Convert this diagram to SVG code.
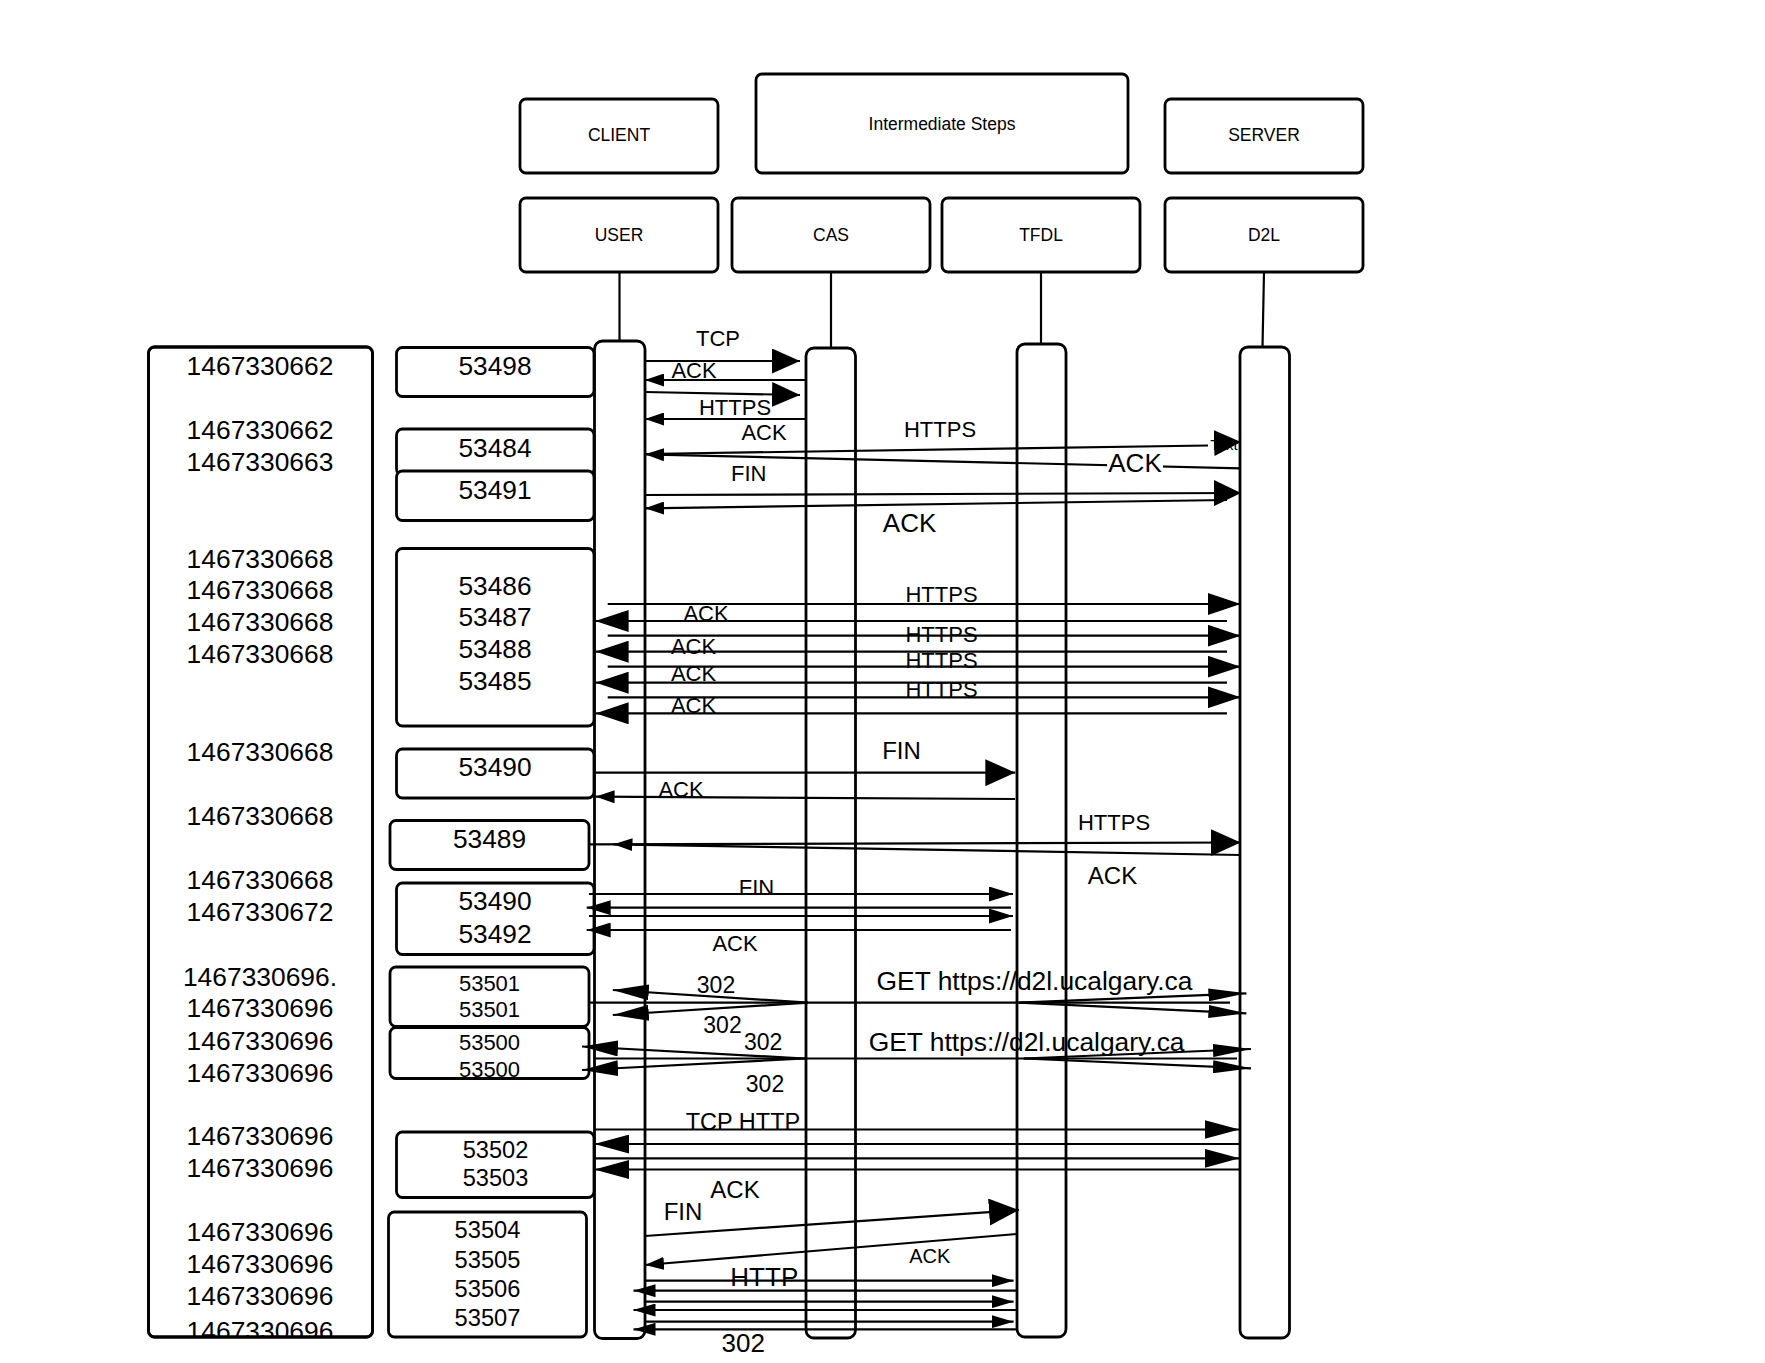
<svg xmlns="http://www.w3.org/2000/svg" width="1765" height="1363" viewBox="0 0 1765 1363">
  <style>
    text { font-family: "Liberation Sans", Arial, sans-serif; fill: #000; text-anchor: middle; }
    .box { fill: #fff; stroke: #000; stroke-width: 2.8; }
    .bar { fill: #fff; stroke: #000; stroke-width: 2.8; }
    .life { stroke: #000; stroke-width: 2.2; fill: none; }
    .msg { stroke: #000; stroke-width: 2.2; fill: none; }
    .hdr { font-size: 17.5px; }
    .ts { font-size: 26.4px; }
    .port { font-size: 26.3px; }
    .lbl { font-size: 22px; }
  </style>
  <defs>
    <marker id="mBig" viewBox="0 0 28 25" refX="28" refY="12.5" markerWidth="28" markerHeight="25" markerUnits="userSpaceOnUse" orient="auto"><path d="M0,0 L28,12.5 L0,25 Z"/></marker>
    <marker id="mSm" viewBox="0 0 19 13" refX="19" refY="6.5" markerWidth="19" markerHeight="13" markerUnits="userSpaceOnUse" orient="auto"><path d="M0,0 L19,6.5 L0,13 Z"/></marker>
    <marker id="mD2L" viewBox="0 0 27 26" refX="27" refY="13" markerWidth="27" markerHeight="26" markerUnits="userSpaceOnUse" orient="auto"><path d="M0,0 L27,13 L0,26 Z"/></marker>
    <marker id="mBlk" viewBox="0 0 33 22" refX="33" refY="11" markerWidth="33" markerHeight="22" markerUnits="userSpaceOnUse" orient="auto"><path d="M0,0 L33,11 L0,22 Z"/></marker>
    <marker id="mFin" viewBox="0 0 30 27" refX="30" refY="13.5" markerWidth="30" markerHeight="27" markerUnits="userSpaceOnUse" orient="auto"><path d="M0,0 L30,13.5 L0,27 Z"/></marker>
    <marker id="mFg" viewBox="0 0 24 15" refX="24" refY="7.5" markerWidth="24" markerHeight="15" markerUnits="userSpaceOnUse" orient="auto"><path d="M0,0 L24,7.5 L0,15 Z"/></marker>
    <marker id="m302" viewBox="0 0 36 16" refX="36" refY="8" markerWidth="36" markerHeight="16" markerUnits="userSpaceOnUse" orient="auto"><path d="M0,0 L36,8 L0,16 Z"/></marker>
    <marker id="mGet" viewBox="0 0 38 13" refX="38" refY="6.5" markerWidth="38" markerHeight="13" markerUnits="userSpaceOnUse" orient="auto"><path d="M0,0 L38,6.5 L0,13 Z"/></marker>
    <marker id="mTcp" viewBox="0 0 35 19" refX="35" refY="9.5" markerWidth="35" markerHeight="19" markerUnits="userSpaceOnUse" orient="auto"><path d="M0,0 L35,9.5 L0,19 Z"/></marker>
    <marker id="mHttp" viewBox="0 0 22 13" refX="22" refY="6.5" markerWidth="22" markerHeight="13" markerUnits="userSpaceOnUse" orient="auto"><path d="M0,0 L22,6.5 L0,13 Z"/></marker>
    <clipPath id="tsClip"><rect x="148" y="346" width="225" height="990"/></clipPath>
  </defs>

  <rect x="0" y="0" width="1765" height="1363" fill="#fff"/>

  <!-- group headers -->
  <g id="client"><rect class="box" x="520" y="99" width="198" height="74" rx="6"/><text class="hdr" x="619" y="141.3">CLIENT</text></g>
  <g id="intermediate"><rect class="box" x="756" y="74" width="372" height="99" rx="6"/><text class="hdr" x="942" y="129.6">Intermediate Steps</text></g>
  <g id="server"><rect class="box" x="1165" y="99" width="198" height="74" rx="6"/><text class="hdr" x="1264" y="141.3">SERVER</text></g>

  <!-- participants with lifelines and activation bars -->
  <g id="user">
    <rect class="box" x="520" y="198" width="198" height="74" rx="6"/><text class="hdr" x="619" y="240.6">USER</text>
    <line class="life" x1="619.5" y1="272" x2="619.5" y2="341"/>
    <rect class="bar" x="594.5" y="341" width="50.5" height="997.5" rx="8"/>
  </g>
  <g id="cas">
    <rect class="box" x="732" y="198" width="198" height="74" rx="6"/><text class="hdr" x="831" y="240.6">CAS</text>
    <line class="life" x1="831" y1="272" x2="831" y2="348"/>
    <rect class="bar" x="806" y="348" width="49.5" height="990" rx="8"/>
  </g>
  <g id="tfdl">
    <rect class="box" x="942" y="198" width="198" height="74" rx="6"/><text class="hdr" x="1041" y="240.6">TFDL</text>
    <line class="life" x1="1041" y1="272" x2="1041" y2="344"/>
    <rect class="bar" x="1017" y="344" width="49" height="993" rx="8"/>
  </g>
  <g id="d2l">
    <rect class="box" x="1165" y="198" width="198" height="74" rx="6"/><text class="hdr" x="1264" y="240.6">D2L</text>
    <line class="life" x1="1264" y1="272" x2="1262.5" y2="347"/>
    <rect class="bar" x="1240" y="347" width="49.5" height="991" rx="8"/>
  </g>

  <!-- timestamps column -->
  <g id="timestamps">
    <rect class="box" x="148.5" y="347" width="224" height="990" rx="6"/>
    <g class="ts" clip-path="url(#tsClip)">
      <text x="260" y="375">1467330662</text>
      <text x="260" y="439">1467330662</text>
      <text x="260" y="470.7">1467330663</text>
      <text x="260" y="567.7">1467330668</text>
      <text x="260" y="599.3">1467330668</text>
      <text x="260" y="631">1467330668</text>
      <text x="260" y="663.3">1467330668</text>
      <text x="260" y="761">1467330668</text>
      <text x="260" y="825.3">1467330668</text>
      <text x="260" y="888.9">1467330668</text>
      <text x="260" y="920.8">1467330672</text>
      <text x="260" y="985.6">1467330696.</text>
      <text x="260" y="1017">1467330696</text>
      <text x="260" y="1050">1467330696</text>
      <text x="260" y="1081.9">1467330696</text>
      <text x="260" y="1145.4">1467330696</text>
      <text x="260" y="1177">1467330696</text>
      <text x="260" y="1241.3">1467330696</text>
      <text x="260" y="1273.3">1467330696</text>
      <text x="260" y="1305.2">1467330696</text>
      <text x="260" y="1340">1467330696</text>
    </g>
    <rect x="148.5" y="347" width="224" height="990" rx="6" fill="none" stroke="#000" stroke-width="2.8"/>
  </g>

  <!-- port numbers -->
  <g id="port-53498"><rect class="box" x="396.5" y="347.5" width="197.5" height="49" rx="6"/><text class="port" x="495" y="374.5">53498</text></g>
  <g id="port-53484"><rect class="box" x="396.5" y="429" width="197.5" height="46" rx="6"/><text class="port" x="495" y="456.7">53484</text></g>
  <g id="port-53491"><rect class="box" x="396.5" y="471" width="197.5" height="49.5" rx="6"/><text class="port" x="495" y="498.5">53491</text></g>
  <g id="port-53486-53485">
    <rect class="box" x="396.5" y="548.5" width="197.5" height="177.5" rx="6"/>
    <text class="port" x="495" y="594.5">53486</text>
    <text class="port" x="495" y="626">53487</text>
    <text class="port" x="495" y="657.7">53488</text>
    <text class="port" x="495" y="690">53485</text>
  </g>
  <g id="port-53490"><rect class="box" x="396.5" y="749" width="197.5" height="49" rx="6"/><text class="port" x="495" y="776">53490</text></g>
  <g id="port-53489"><rect class="box" x="390" y="820.5" width="199" height="49" rx="6"/><text class="port" x="489.5" y="848">53489</text></g>
  <g id="port-53490-53492">
    <rect class="box" x="396.5" y="883" width="197.5" height="71.5" rx="6"/>
    <text class="port" x="495" y="910">53490</text>
    <text class="port" x="495" y="942.5">53492</text>
  </g>
  <g id="port-53501">
    <rect class="box" x="390" y="967" width="199" height="59.5" rx="6"/>
    <text x="489.5" y="990.5" font-size="22">53501</text>
    <text x="489.5" y="1017" font-size="22">53501</text>
  </g>
  <g id="port-53500">
    <rect class="box" x="390" y="1027.5" width="199" height="51" rx="6"/>
    <text x="489.5" y="1050" font-size="22">53500</text>
    <text x="489.5" y="1076.6" font-size="22">53500</text>
  </g>
  <g id="port-53502-53503">
    <rect class="box" x="396.5" y="1132" width="197.5" height="65.5" rx="6"/>
    <text x="495.5" y="1157.7" font-size="23.6">53502</text>
    <text x="495.5" y="1186.4" font-size="23.6">53503</text>
  </g>
  <g id="port-53504-53507">
    <rect class="box" x="388.5" y="1212" width="198" height="125" rx="6"/>
    <text x="487.5" y="1238.4" font-size="23.7">53504</text>
    <text x="487.5" y="1268" font-size="23.7">53505</text>
    <text x="487.5" y="1297" font-size="23.7">53506</text>
    <text x="487.5" y="1325.7" font-size="23.7">53507</text>
  </g>

  <!-- messages -->
  <g id="connectors">
    <!-- handshake with CAS -->
    <path class="msg" d="M645,361 L800,361" marker-end="url(#mBig)"/>
    <path class="msg" d="M806,380 L645,380" marker-end="url(#mSm)"/>
    <path class="msg" d="M645,392 L800,395" marker-end="url(#mBig)"/>
    <path class="msg" d="M806,419 L645,419" marker-end="url(#mSm)"/>
    <text class="lbl" x="718" y="346">TCP</text>
    <text class="lbl" x="694" y="378.4">ACK</text>
    <text class="lbl" x="735" y="415">HTTPS</text>
    <text class="lbl" x="764" y="439.5">ACK</text>

    <!-- HTTPS / FIN with D2L -->
    <path class="msg" d="M645,454 L1208,445.5"/>
    <text x="1224" y="450.4" font-size="15">Text</text>
    <path class="msg" d="M1228,442.5 L1241,442" marker-end="url(#mD2L)"/>
    <path class="msg" d="M1241,468.3 L645,454.3" marker-end="url(#mSm)"/>
    <rect x="1107" y="450" width="56" height="25" fill="#fff"/>
    <text x="1135" y="471.8" font-size="26">ACK</text>
    <text class="lbl" x="940" y="437.2">HTTPS</text>
    <path class="msg" d="M645,495 L1241,493" marker-end="url(#mD2L)"/>
    <path class="msg" d="M1227,500 L645,508.3" marker-end="url(#mSm)"/>
    <text class="lbl" x="748.7" y="481.4">FIN</text>
    <text x="909.6" y="531.6" font-size="26">ACK</text>

    <!-- four HTTPS / ACK exchanges with D2L -->
    <path class="msg" d="M607.7,604 L1240.7,604" marker-end="url(#mBlk)"/>
    <path class="msg" d="M1227,621 L595.6,621" marker-end="url(#mBlk)"/>
    <path class="msg" d="M607.7,635.7 L1240.7,635.7" marker-end="url(#mBlk)"/>
    <path class="msg" d="M1227,651.7 L595.6,651.7" marker-end="url(#mBlk)"/>
    <path class="msg" d="M607.7,666.7 L1240.7,666.7" marker-end="url(#mBlk)"/>
    <path class="msg" d="M1227,682.7 L595.6,682.7" marker-end="url(#mBlk)"/>
    <path class="msg" d="M607.7,697.3 L1240.7,697.3" marker-end="url(#mBlk)"/>
    <path class="msg" d="M1227,713.3 L595.6,713.3" marker-end="url(#mBlk)"/>
    <text class="lbl" x="941.5" y="602.4">HTTPS</text>
    <text class="lbl" x="941.5" y="641.9">HTTPS</text>
    <text class="lbl" x="941.5" y="667.9">HTTPS</text>
    <text class="lbl" x="941.5" y="696.9">HTTPS</text>
    <text class="lbl" x="706" y="620.9">ACK</text>
    <text class="lbl" x="693.5" y="654.4">ACK</text>
    <text class="lbl" x="693.5" y="681.4">ACK</text>
    <text class="lbl" x="693.5" y="712.9">ACK</text>

    <!-- FIN with TFDL -->
    <path class="msg" d="M595.6,772.7 L1015.3,772.7" marker-end="url(#mFin)"/>
    <path class="msg" d="M1015,799 L595.6,796.7" marker-end="url(#mSm)"/>
    <text x="901.5" y="758.6" font-size="24">FIN</text>
    <text class="lbl" x="681" y="797.4">ACK</text>

    <!-- HTTPS from 53489 -->
    <path class="msg" d="M589,844.3 L1240.7,842.5" marker-end="url(#mFin)"/>
    <path class="msg" d="M1240.7,855 L613.5,844.3" marker-end="url(#mSm)"/>
    <text class="lbl" x="1114" y="830.2">HTTPS</text>
    <text x="1112.5" y="883.6" font-size="24">ACK</text>

    <!-- FIN / ACK pairs with TFDL -->
    <path class="msg" d="M589,894 L1013,894" marker-end="url(#mFg)"/>
    <path class="msg" d="M1011,907.7 L586.7,907.7" marker-end="url(#mFg)"/>
    <path class="msg" d="M589,916 L1013,916" marker-end="url(#mFg)"/>
    <path class="msg" d="M1011,930 L586.7,930" marker-end="url(#mFg)"/>
    <text class="lbl" x="756.5" y="894.9">FIN</text>
    <text class="lbl" x="735" y="950.9">ACK</text>

    <!-- GET / 302 redirects -->
    <path class="msg" d="M589,1002.7 L1230,1002.7"/>
    <path class="msg" d="M808,1002.7 L612.8,990" marker-end="url(#m302)"/>
    <path class="msg" d="M808,1002.7 L612.8,1015" marker-end="url(#m302)"/>
    <path class="msg" d="M1019,1002.7 L1246.4,993.3" marker-end="url(#mGet)"/>
    <path class="msg" d="M1019,1002.7 L1246.4,1013.3" marker-end="url(#mGet)"/>
    <path class="msg" d="M593.5,1058.5 L1237,1058.5"/>
    <path class="msg" d="M805,1058.5 L582,1046.5" marker-end="url(#m302)"/>
    <path class="msg" d="M805,1058.5 L582,1070" marker-end="url(#m302)"/>
    <path class="msg" d="M1023.7,1058.5 L1251,1049" marker-end="url(#mGet)"/>
    <path class="msg" d="M1023.7,1058.5 L1251,1068.3" marker-end="url(#mGet)"/>
    <text x="716" y="993.2" font-size="23">302</text>
    <text x="722.5" y="1033.2" font-size="23">302</text>
    <text x="763.2" y="1049.7" font-size="23">302</text>
    <text x="765" y="1092.2" font-size="23">302</text>
    <text x="1034.5" y="989.8" font-size="26.4">GET https://d2l.ucalgary.ca</text>
    <text x="1026.6" y="1050.6" font-size="26.4">GET https://d2l.ucalgary.ca</text>

    <!-- TCP / HTTP with D2L -->
    <path class="msg" d="M594.4,1129.5 L1239.5,1129.5" marker-end="url(#mTcp)"/>
    <path class="msg" d="M1239.5,1144 L594.4,1144" marker-end="url(#mTcp)"/>
    <path class="msg" d="M594.4,1158.3 L1239.5,1158.3" marker-end="url(#mTcp)"/>
    <path class="msg" d="M1239.5,1169.5 L594.4,1169.5" marker-end="url(#mTcp)"/>
    <text x="743" y="1129.5" font-size="23.5">TCP HTTP</text>

    <!-- FIN / ACK with TFDL -->
    <path class="msg" d="M645,1236 L1019,1210" marker-end="url(#mFin)"/>
    <path class="msg" d="M1016.8,1234 L645,1265" marker-end="url(#mSm)"/>
    <text x="735" y="1197.6" font-size="24">ACK</text>
    <text x="683" y="1219.6" font-size="24">FIN</text>
    <text x="929.7" y="1262.7" font-size="20">ACK</text>

    <!-- HTTP / 302 with TFDL -->
    <path class="msg" d="M645,1280.7 L1013.6,1280.7" marker-end="url(#mHttp)"/>
    <path class="msg" d="M1016.8,1290.7 L633.5,1290.7" marker-end="url(#mHttp)"/>
    <path class="msg" d="M645,1301.7 L1013.6,1301.7" marker-end="url(#mHttp)"/>
    <path class="msg" d="M1016.8,1310 L633.5,1310" marker-end="url(#mHttp)"/>
    <path class="msg" d="M645,1321.7 L1013.6,1321.7" marker-end="url(#mHttp)"/>
    <path class="msg" d="M1016.8,1329.3 L633.5,1329.3" marker-end="url(#mHttp)"/>
    <text x="764.3" y="1285.9" font-size="26">HTTP</text>
    <text x="743.3" y="1351.8" font-size="26">302</text>
  </g>
</svg>
